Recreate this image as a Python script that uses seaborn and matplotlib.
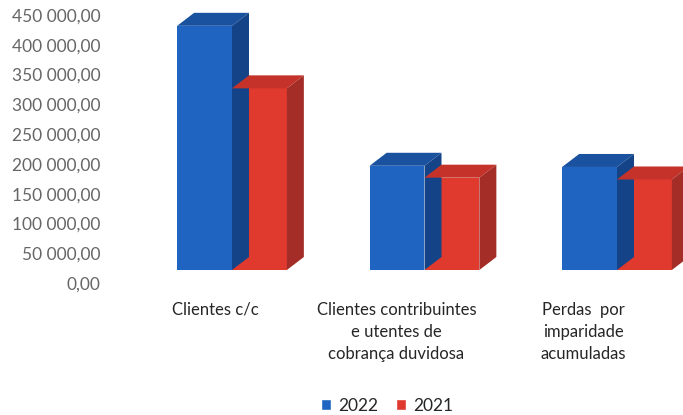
import matplotlib
matplotlib.use("Agg")
import matplotlib.pyplot as plt
import seaborn as sns
import pandas as pd
from matplotlib.patches import Polygon
from matplotlib.transforms import ScaledTranslation

# Data
categories = ["Clientes c/c",
              "Clientes contribuintes\ne utentes de\ncobrança duvidosa",
              "Perdas  por\nimparidade\nacumuladas"]
years = ["2022", "2021"]
values_2022 = [410000, 175000, 173000]
values_2021 = [305000, 155000, 152000]
y_ticks = [0, 50000, 100000, 150000, 200000, 250000, 300000, 350000, 400000, 450000]

df = pd.DataFrame({
    "categoria": categories * 2,
    "ano": [years[0]] * 3 + [years[1]] * 3,
    "valor": values_2022 + values_2021,
})

sns.set_style("white")
plt.rcParams["font.family"] = ["Lato", "DejaVu Sans"]

DPI = 100
W, H = 683, 415
fig = plt.figure(figsize=(W / DPI, H / DPI), dpi=DPI)

# axes placed in pixels: floor at y=270 from top
ax_left, ax_right = 110, 683
ax_bottom_px = 270
ax_height_px = 268
ax = fig.add_axes([ax_left / W, (H - ax_bottom_px) / H,
                   (ax_right - ax_left) / W, ax_height_px / H])

front = {"2022": "#1f64c0", "2021": "#e0392d"}
top_c = {"2022": "#1a52a0", "2021": "#c4322a"}
side_c = {"2022": "#144487", "2021": "#a42d27"}

sns.barplot(data=df, x="categoria", y="valor", hue="ano", hue_order=years,
            palette=front, saturation=1, width=0.57, ax=ax, legend=True)

ax.set_ylim(0, 450000)
unit_px = 192.5
ax.set_xlim(-(232 - ax_left) / unit_px, 2 + (ax_right - 617) / unit_px)
ax.set_yticks(y_ticks)
ax.set_yticklabels([f"{v:,.2f}".replace(",", " ").replace(".", ",") for v in y_ticks])
ax.set_xlabel("")
ax.set_ylabel("")
for s in ax.spines.values():
    s.set_visible(False)
ax.tick_params(axis="both", length=0)
ax.tick_params(axis="y", pad=7, labelsize=12.5, labelcolor="#666666")
ax.tick_params(axis="x", pad=23, labelsize=12, labelcolor="#262626")

# y labels sit slightly lower than the floor level
for lab in ax.get_yticklabels():
    lab.set_transform(lab.get_transform() + ScaledTranslation(0, -13 / DPI, fig.dpi_scale_trans))
x_shift = [-17, -28, -34]
for lab, dx in zip(ax.get_xticklabels(), x_shift):
    lab.set_transform(lab.get_transform() + ScaledTranslation(dx / DPI, 0, fig.dpi_scale_trans))
    lab.set_linespacing(1.45)
    lab.set_verticalalignment("top")

# Legend from seaborn handles, moved to the bottom of the figure
handles, labels = ax.get_legend_handles_labels()
ax.get_legend().remove()
fig.legend(handles, labels, loc="center", bbox_to_anchor=(387 / W, (H - 406) / H),
           ncol=2, frameon=False, fontsize=12.5, handlelength=0.6, handleheight=0.6,
           handletextpad=0.4, columnspacing=1.0, labelcolor="#262626")

# extrude each bar to give it depth: top and right side faces
fig.canvas.draw()
depth_dx, depth_dy = 17, 13
bars = [p for p in ax.patches if p.get_height() > 0]
n_cat = len(categories)
for i, bar in enumerate(bars):
    yr = years[i // n_cat]
    z = 2 if yr == years[0] else 3
    bar.set_zorder(z)
    bar.set_edgecolor("none")
    x0, y0 = bar.get_x(), bar.get_y()
    x1, y1 = x0 + bar.get_width(), y0 + bar.get_height()
    (px0, py0), (px1, py1) = ax.transData.transform([(x0, y0), (x1, y1)])
    top = [(px0, py1), (px1, py1), (px1 + depth_dx, py1 + depth_dy), (px0 + depth_dx, py1 + depth_dy)]
    side = [(px1, py0), (px1 + depth_dx, py0 + depth_dy), (px1 + depth_dx, py1 + depth_dy), (px1, py1)]
    for verts, col in ((top, top_c[yr]), (side, side_c[yr])):
        poly = Polygon(verts, closed=True, facecolor=col, edgecolor="none",
                       transform=None, zorder=z + 0.1, clip_on=False)
        fig.add_artist(poly)

fig.savefig("out.png", dpi=DPI)
